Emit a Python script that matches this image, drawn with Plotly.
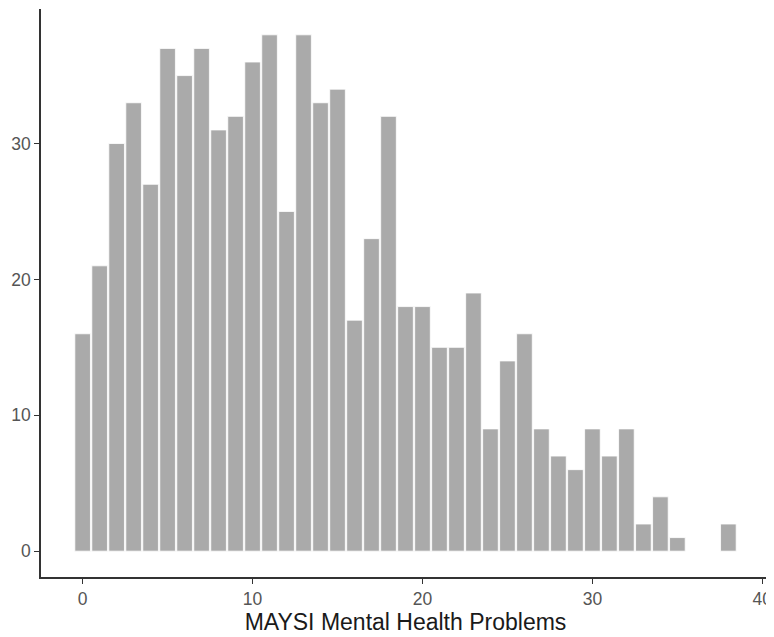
import plotly.graph_objects as go

scores = list(range(0, 39))
counts = [16, 21, 30, 33, 27, 37, 35, 37, 31, 32, 36, 38, 25, 38, 33, 34, 17, 23, 32, 18,
          18, 15, 15, 19, 9, 14, 16, 9, 7, 6, 9, 7, 9, 2, 4, 1, 0, 0, 2]
x_ticks = [0, 10, 20, 30, 40]
y_ticks = [0, 10, 20, 30]

fig = go.Figure(go.Bar(
    x=scores, y=counts, width=0.92,
    marker=dict(color="#AAAAAA", line=dict(color="white", width=0.8)),
))
# page has an 8px body margin, so the figure is sized to fit inside the window
fig.update_layout(
    width=766, height=629,
    margin=dict(l=33, r=4, t=1, b=60),
    plot_bgcolor="white", paper_bgcolor="white",
    showlegend=False,
    font=dict(family="Liberation Sans, Arial, sans-serif"),
)
fig.update_xaxes(
    range=[-2.45, 40.45], tickvals=x_ticks, showgrid=False, zeroline=False,
    showline=True, linecolor="#333333", linewidth=1.5, automargin=False,
    ticks="outside", ticklen=5, tickcolor="#333333", tickwidth=1.2,
    tickfont=dict(size=17.5, color="#555555"),
    title=dict(text="MAYSI Mental Health Problems", font=dict(size=23, color="#1a1a1a"), standoff=3),
)
fig.update_yaxes(
    range=[-1.9, 39.9], tickvals=y_ticks, showgrid=False, zeroline=False,
    showline=True, linecolor="#333333", linewidth=1.5, automargin=False,
    ticks="outside", ticklen=5, tickcolor="#333333", tickwidth=1.2,
    tickfont=dict(size=17.5, color="#555555"),
)
fig.write_html("out.html")
